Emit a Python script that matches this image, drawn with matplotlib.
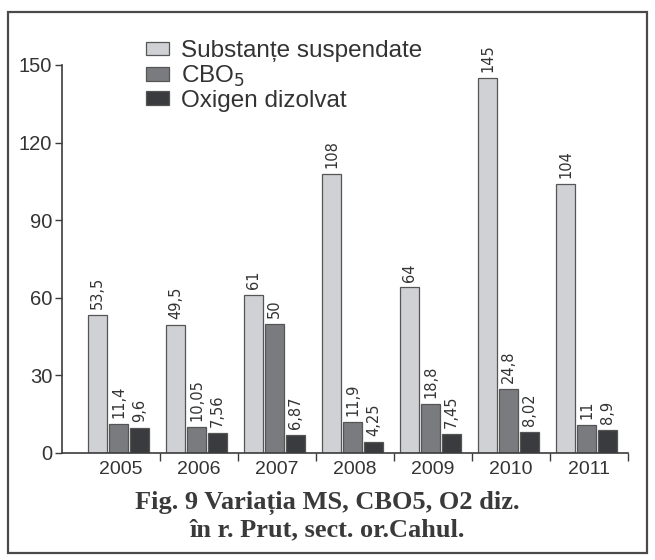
import matplotlib
matplotlib.use('Agg')
import matplotlib.pyplot as plt
from matplotlib.patches import Rectangle
import numpy as np

years = ['2005', '2006', '2007', '2008', '2009', '2010', '2011']
substante = [53.5, 49.5, 61, 108, 64, 145, 104]
cbo5 = [11.4, 10.05, 50, 11.9, 18.8, 24.8, 11]
oxigen = [9.6, 7.56, 6.87, 4.25, 7.45, 8.02, 8.9]
lbl_substante = ['53,5', '49,5', '61', '108', '64', '145', '104']
lbl_cbo5 = ['11,4', '10,05', '50', '11,9', '18,8', '24,8', '11']
lbl_oxigen = ['9,6', '7,56', '6,87', '4,25', '7,45', '8,02', '8,9']
yticks = [0, 30, 60, 90, 120, 150]

narrow = ['Liberation Sans Narrow', 'Liberation Sans', 'DejaVu Sans']
axis_col = '#3c3c3c'
plt.rcParams['mathtext.fontset'] = 'custom'
plt.rcParams['mathtext.rm'] = 'Liberation Sans Narrow'
plt.rcParams['mathtext.default'] = 'rm'

fig = plt.figure(figsize=(6.55, 5.6), dpi=100)
fig.patches.append(Rectangle((8 / 655, 1 - 553 / 560), 639 / 655, 541 / 560,
                             transform=fig.transFigure, fill=False,
                             edgecolor='#4a4a4a', linewidth=1.6))

ax = fig.add_axes([62 / 655, 1 - 453 / 560, 566 / 655, 388 / 560])

x = np.arange(len(years))
w = 0.245
pitch = 0.27
shift = -0.03
series = [
    (substante, lbl_substante, '#d0d1d5', 'Substanțe suspendate'),
    (cbo5, lbl_cbo5, '#7a7b7f', 'CBO$_5$'),
    (oxigen, lbl_oxigen, '#3a3b3e', 'Oxigen dizolvat'),
]
for k, (vals, lbls, col, name) in enumerate(series):
    pos = x + shift + (k - 1) * pitch
    ax.bar(pos, vals, width=w, color=col, edgecolor='#555555',
           linewidth=0.9, label=name)
    for p, v, t in zip(pos, vals, lbls):
        ax.text(p, v + 2.3, t, rotation=90, ha='center', va='bottom',
                fontsize=10.5, color='#333333', family='DejaVu Sans',
                clip_on=False)

ax.set_xlim(-0.756, 6.5)
ax.set_ylim(0, 150)
ax.set_yticks(yticks)
ax.set_yticklabels([str(t) for t in yticks], family=narrow, fontsize=14.5,
                   color='#333333')
ax.set_xticks(x)
ax.set_xticklabels(years, family=narrow, fontsize=14, color='#333333')
ax.set_xticks(np.arange(0.5, 7, 1), minor=True)
ax.tick_params(axis='x', which='major', length=0, pad=6)
ax.tick_params(axis='x', which='minor', length=6, color=axis_col, width=1)
ax.tick_params(axis='y', length=5, color=axis_col, width=1, pad=2)
for s in ['top', 'right']:
    ax.spines[s].set_visible(False)
for s in ['left', 'bottom']:
    ax.spines[s].set_color(axis_col)
    ax.spines[s].set_linewidth(1.2)

leg = ax.legend(loc='upper left', bbox_to_anchor=(134 / 655, 1 - 28 / 560),
                bbox_transform=fig.transFigure, frameon=False,
                prop={'family': narrow, 'size': 17.5}, handlelength=0.95,
                handleheight=0.5, handletextpad=0.5, labelspacing=0.05,
                borderpad=0)
for t in leg.get_texts():
    t.set_color('#333333')

cap_font = ['Liberation Serif', 'DejaVu Serif']
fig.text(0.5, 1 - 503 / 560, 'Fig. 9 Variația MS, CBO5, O2 diz.',
         ha='center', va='center', fontsize=19, fontweight='bold',
         family=cap_font, color='#3a3a3a')
fig.text(0.5, 1 - 530 / 560, 'în r. Prut, sect. or.Cahul.',
         ha='center', va='center', fontsize=19, fontweight='bold',
         family=cap_font, color='#3a3a3a')

fig.savefig('out.png', dpi=100)
